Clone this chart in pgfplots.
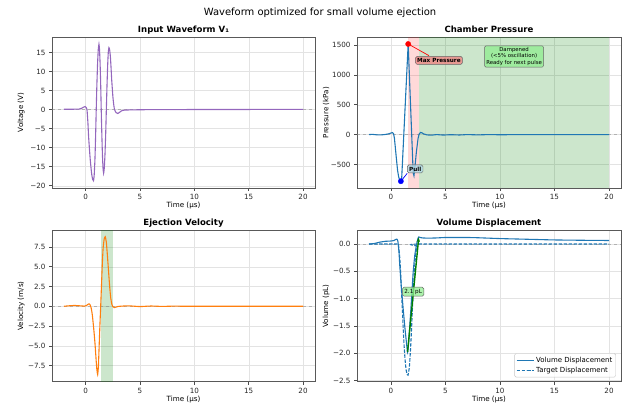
\documentclass[border=0pt]{standalone}
\usepackage{pgfplots}
\pgfplotsset{compat=1.18}
\usepackage{fontspec}
\setmainfont{DejaVu Sans}
\usetikzlibrary{arrows.meta}

\definecolor{tabblue}{HTML}{1F77B4}
\definecolor{taborange}{HTML}{FF7F0E}
\definecolor{tabpurple}{HTML}{9467BD}
\definecolor{mplgreen}{RGB}{0,128,0}
\definecolor{lightcoral}{HTML}{F08080}
\definecolor{lightblue}{HTML}{ADD8E6}
\definecolor{lightgreen}{HTML}{90EE90}

\tikzset{
  ann/.style={font=\bfseries\fontsize{5.7}{6.6}\selectfont, rounded corners=1.5bp, draw=black!60, line width=0.5pt, inner sep=1.8bp, fill opacity=0.75, text opacity=1},
}

\pgfplotsset{
  myax/.style={
    scale only axis,
    width=263bp, height=151bp,
    xmin=-3.1, xmax=21.1,
    xtick={0,5,10,15,20},
    tick pos=left,
    tick align=outside,
    major tick length=3bp,
    tick style={black!70, line width=0.5pt},
    axis line style={black!65, line width=0.6pt},
    grid=major,
    grid style={gray!22, line width=0.4pt},
    ticklabel style={font=\fontsize{7.2}{8.5}\selectfont, text=black!85},
    /pgf/number format/assume math mode=true,
    label style={font=\fontsize{7.2}{8.5}\selectfont},
    title style={font=\bfseries\fontsize{8.6}{10}\selectfont, at={(0.5,1)}, anchor=base, yshift=-1pt},
    ylabel style={at={(axis description cs:-0.117,0.5)}, anchor=center},
    xlabel style={at={(axis description cs:0.5,0)}, anchor=center, yshift=-17.5bp},
    xlabel={Time (μs)},
  },
  zeroline/.style={gray, dashed, opacity=0.5, line width=0.5pt, forget plot},
}

\begin{document}
\begin{tikzpicture}
\path[use as bounding box] (0,0) rectangle (622bp,405bp);

\node[font=\fontsize{10}{12}\selectfont] at (320bp,392bp) {Waveform optimized for small volume ejection};

% ---------------- Input waveform ----------------
\begin{axis}[myax,
  at={(52bp,217bp)}, anchor=south west,
  ymin=-20.6, ymax=19.1,
  ytick={-20,-15,-10,-5,0,5,10,15},
  yticklabels={−20,−15,−10,−5,0,5,10,15},
  title={Input Waveform V₁},
  ylabel={Voltage (V)},
]
\addplot[zeroline] coordinates {(-3.1,0) (21.1,0)};
\addplot[tabpurple, line width=1.1pt, smooth, tension=0.3] coordinates {
(-2,0.1) (-1.5,0.1) (-1,0.12) (-0.6,0.15) (-0.35,0.4) (-0.2,0.65) (-0.05,0.8) (0.05,0.55) (0.12,0)
(0.2,-3.2) (0.27,-7.2) (0.35,-10.5) (0.42,-13.2) (0.5,-15.6) (0.57,-17.3) (0.65,-18.4) (0.72,-18.7)
(0.78,-17.3) (0.85,-13.2) (0.91,-7.2) (0.97,0) (1.03,6.6) (1.095,12.2) (1.16,15.9) (1.22,17.2)
(1.27,15.9) (1.325,12.2) (1.38,6.6) (1.43,0) (1.485,-6.4) (1.54,-11.8) (1.595,-15.4) (1.65,-16.7)
(1.71,-15.4) (1.775,-11.8) (1.84,-6.4) (1.9,0) (1.96,6.2) (2.02,11.5) (2.08,15.1) (2.14,16.3)
(2.2,15.8) (2.27,14) (2.33,11.2) (2.39,8) (2.45,5.5) (2.5,3.5) (2.56,1.8) (2.62,0.5) (2.7,-0.3)
(2.8,-0.8) (2.95,-1.0) (3.1,-0.75) (3.25,-0.4) (3.4,-0.2) (3.7,-0.1) (4.5,-0.05) (6,0) (10,0.03)
(15,0.05) (20,0.08)};
\end{axis}

% ---------------- Chamber pressure ----------------
\begin{axis}[myax,
  at={(357bp,217bp)}, anchor=south west, width=264bp,
  ymin=-895, ymax=1635,
  ytick={-500,0,500,1000,1500},
  yticklabels={−500,0,500,1000,1500},
  title={Chamber Pressure},
  ylabel={Pressure (kPa)},
]
\addplot[draw=none, fill=red, fill opacity=0.15, forget plot] coordinates {(1.53,-895) (2.59,-895) (2.59,1635) (1.53,1635)} -- cycle;
\addplot[draw=none, fill=mplgreen, fill opacity=0.2, forget plot] coordinates {(2.59,-895) (20,-895) (20,1635) (2.59,1635)} -- cycle;
\addplot[zeroline] coordinates {(-3.1,0) (21.1,0)};
\addplot[tabblue, line width=1.1pt] coordinates {
(-2,0) (-1.7,4) (-1.3,-4) (-0.9,-6) (-0.5,2) (-0.2,12) (0.05,28) (0.15,33) (0.25,15) (0.33,-60)
(0.42,-230) (0.52,-420) (0.62,-600) (0.72,-710) (0.82,-765) (0.92,-782) (1.0,-720) (1.59,1518)
(2.05,-640) (2.12,-690) (2.2,-560) (2.35,-280) (2.5,-60) (2.6,10) (2.72,35) (2.85,30) (3.0,12)
(3.3,-5) (3.7,-10) (4.2,0) (4.8,-8) (5.5,-2) (6.3,-7) (7,0) (8,-5) (9,0) (10,-3) (12,0) (15,-1) (20,0)};
\addplot[only marks, mark=*, mark size=2.6bp, red] coordinates {(1.59,1518)};
\addplot[only marks, mark=*, mark size=2.6bp, blue] coordinates {(0.92,-782)};
\draw[red, line width=0.7pt, -{Stealth[length=3bp]}] (axis cs:3.5,1322) -- (axis cs:1.59,1518);
\draw[blue, line width=0.7pt, -{Stealth[length=3bp]}] (axis cs:1.5,-650) -- (axis cs:0.92,-782);
\node[ann, fill=lightcoral] at (axis cs:4.41,1243) {Max Pressure};
\node[ann, fill=lightblue] at (axis cs:2.23,-575) {Pull};
\node[ann, font=\fontsize{5.4}{6.3}\selectfont, align=center, fill=lightgreen] at (axis cs:11.3,1308) {Dampened\\(<5\% oscillation)\\Ready for next pulse};
\end{axis}

% ---------------- Ejection velocity ----------------
\begin{axis}[myax,
  at={(52bp,23.3bp)}, anchor=south west, height=151.7bp,
  ymin=-9.55, ymax=9.65,
  ytick={-7.5,-5,-2.5,0,2.5,5,7.5},
  yticklabels={−7.5,−5.0,−2.5,0.0,2.5,5.0,7.5},
  title={Ejection Velocity},
  ylabel={Velocity (m/s)},
]
\addplot[draw=none, fill=mplgreen, fill opacity=0.2, forget plot] coordinates {(1.45,-9.55) (2.55,-9.55) (2.55,9.65) (1.45,9.65)} -- cycle;
\addplot[zeroline] coordinates {(-3.1,0) (21.1,0)};
\addplot[taborange, line width=1.1pt, smooth, tension=0.3] coordinates {
(-2,0) (-1.5,0.06) (-1,0.1) (-0.5,0.05) (-0.1,0.02) (0.1,0.12) (0.25,0.28) (0.33,0.3) (0.42,0.15)
(0.5,-0.2) (0.58,-0.8) (0.65,-1.6) (0.75,-3.0) (0.85,-4.6) (0.95,-6.6) (1.02,-7.9) (1.1,-8.65)
(1.17,-7.6) (1.25,-4.6) (1.32,-2.0) (1.38,0) (1.45,2.5) (1.52,5.0) (1.6,7.3) (1.7,8.5) (1.8,8.8)
(1.9,8.1) (2.0,6.4) (2.1,4.5) (2.2,2.6) (2.3,1.1) (2.4,0.3) (2.5,-0.05) (2.64,-0.17) (2.8,-0.1)
(3,-0.02) (3.5,0.03) (4,0.05) (5,-0.04) (6,0.03) (7,-0.02) (8,0.01) (10,0) (20,0)};
\end{axis}

% ---------------- Volume displacement ----------------
\begin{axis}[myax,
  at={(357bp,23.3bp)}, anchor=south west, width=264bp, height=151.7bp,
  ymin=-2.52, ymax=0.257,
  ytick={-2.5,-2,-1.5,-1,-0.5,0},
  yticklabels={−2.5,−2.0,−1.5,−1.0,−0.5,0.0},
  title={Volume Displacement},
  ylabel={Volume (pL)},
  legend style={at={(axis description cs:0.981,0.029)}, anchor=south east,
    font=\fontsize{7}{8}\selectfont, draw=gray!45, rounded corners=1.5bp,
    fill=white, fill opacity=0.8, text opacity=1, inner sep=1.5bp, row sep=-1bp},
  legend cell align=left,
]
\addplot[zeroline] coordinates {(-3.1,0) (21.1,0)};
\addplot[tabblue, line width=1.1pt, smooth, tension=0.3] coordinates {
(-2,0) (-1.5,0.01) (-1,0.035) (-0.5,0.05) (0,0.055) (0.3,0.065) (0.45,0.085) (0.55,0.09) (0.65,0.05)
(0.75,-0.15) (0.82,-0.39) (0.95,-0.75) (1.13,-1.18) (1.3,-1.55) (1.43,-1.8) (1.53,-1.98) (1.62,-1.85)
(1.74,-1.49) (1.9,-1.0) (2.05,-0.51) (2.2,-0.2) (2.35,-0.02) (2.48,0.1) (2.56,0.13) (2.7,0.12)
(3,0.11) (4,0.11) (5,0.12) (6,0.12) (7,0.12) (8,0.115) (10,0.1) (12,0.09) (15,0.075) (18,0.068) (20,0.065)};
\addlegendentry{Volume Displacement}
\addplot[tabblue, line width=1.1pt, dash pattern=on 3.5bp off 1.5bp, smooth, tension=0.3] coordinates {
(-2,0) (0.6,0) (0.7,-0.03) (0.8,-0.2) (0.9,-0.5) (1.0,-0.95) (1.1,-1.4) (1.2,-1.8) (1.3,-2.1)
(1.4,-2.3) (1.5,-2.39) (1.58,-2.4) (1.7,-2.25) (1.8,-1.95) (1.9,-1.55) (2.0,-1.1) (2.1,-0.7)
(2.2,-0.38) (2.3,-0.15) (2.4,-0.04) (2.5,0) (20,0)};
\addlegendentry{Target Displacement}
\draw[mplgreen, line width=1.4pt, -{Stealth[length=4.5bp]}] (axis cs:1.53,-1.98) -- (axis cs:2.56,0.12);
\node[ann, font=\fontsize{5.7}{6.6}\selectfont, fill=lightgreen] at (axis cs:2.05,-0.873) {2.1 pL};
\end{axis}
\end{tikzpicture}
\end{document}
